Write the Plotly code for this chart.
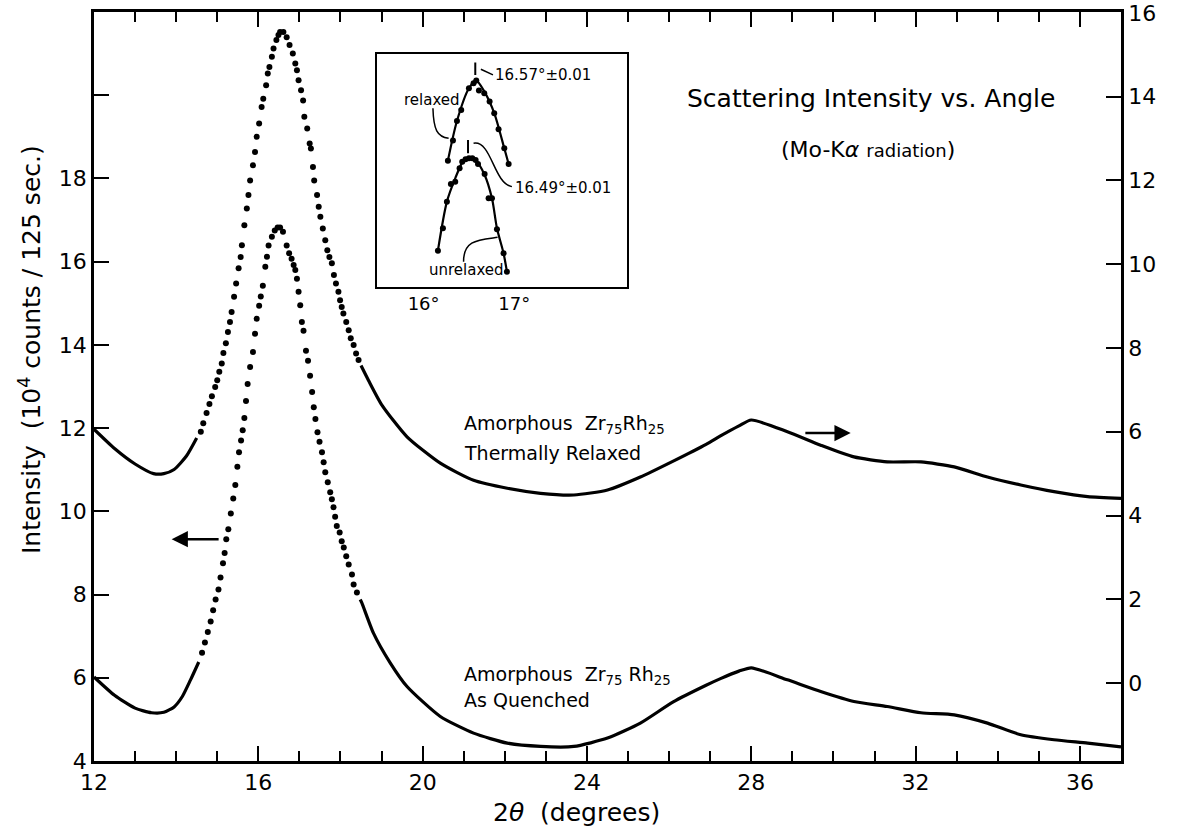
import plotly.graph_objects as go

# ---------------- data ----------------
# As-quenched curve (left axis)
quenched_left_x = [12.0, 12.5, 13.0, 13.4, 13.7, 13.95, 14.15, 14.35, 14.55]
quenched_left_y = [6.02, 5.58, 5.27, 5.16, 5.17, 5.30, 5.55, 5.95, 6.38]

quenched_dots_x = [14.63, 14.70, 14.77, 14.84, 14.90, 14.96, 15.03, 15.08, 15.14, 15.18, 15.22, 15.27,
                   15.33, 15.39, 15.44, 15.49, 15.53, 15.58, 15.62, 15.66, 15.70, 15.74, 15.80, 15.87,
                   15.92, 15.96, 16.02, 16.06, 16.11, 16.17, 16.21, 16.25, 16.33, 16.40, 16.47, 16.53,
                   16.60, 16.69, 16.75, 16.81, 16.86, 16.90, 16.94, 16.98, 17.02, 17.06, 17.10, 17.16,
                   17.21, 17.26, 17.31, 17.35, 17.39, 17.44, 17.49, 17.55, 17.59, 17.63, 17.69, 17.75,
                   17.79, 17.83, 17.87, 17.91, 17.98, 18.03, 18.08, 18.14, 18.20, 18.28, 18.32, 18.40]
quenched_dots_y = [6.60, 6.85, 7.10, 7.35, 7.62, 7.88, 8.12, 8.41, 8.75, 9.00, 9.33, 9.57,
                   9.95, 10.31, 10.63, 11.07, 11.42, 11.70, 11.95, 12.24, 12.65, 13.06, 13.47, 13.83,
                   14.27, 14.63, 14.94, 15.16, 15.42, 15.88, 16.12, 16.39, 16.60, 16.75, 16.82, 16.82,
                   16.72, 16.39, 16.20, 16.07, 15.92, 15.80, 15.59, 15.28, 14.95, 14.55, 14.34, 13.86,
                   13.62, 13.26, 12.87, 12.50, 12.22, 11.90, 11.67, 11.42, 11.18, 10.94, 10.70, 10.46,
                   10.29, 10.10, 9.87, 9.65, 9.49, 9.28, 9.13, 8.92, 8.72, 8.48, 8.24, 8.05]

quenched_right_x = [18.48, 18.52, 18.80, 19.21, 19.62, 20.43, 21.24, 22.06, 22.87, 23.68, 24.50, 25.30,
                    26.10, 26.90, 27.25, 27.70, 28.00, 28.88, 29.69, 30.50, 31.31, 32.13, 32.94, 33.75,
                    34.56, 35.37, 36.19, 37.00]
quenched_right_y = [7.88, 7.80, 7.08, 6.36, 5.79, 5.07, 4.67, 4.43, 4.35, 4.35, 4.55, 4.91,
                    5.42, 5.82, 5.98, 6.16, 6.24, 5.95, 5.67, 5.43, 5.31, 5.16, 5.11, 4.91,
                    4.63, 4.51, 4.43, 4.34]

# Thermally relaxed curve (right axis)
relaxed_left_x = [12.0, 12.5, 13.0, 13.45, 13.7, 13.95, 14.25, 14.5]
relaxed_left_y = [6.06, 5.60, 5.23, 5.00, 5.00, 5.10, 5.42, 5.85]

relaxed_dots_x = [14.60, 14.66, 14.74, 14.81, 14.87, 14.95, 15.00, 15.05, 15.11, 15.15, 15.21, 15.26,
                  15.31, 15.35, 15.41, 15.46, 15.52, 15.57, 15.60, 15.66, 15.72, 15.76, 15.80, 15.87,
                  15.92, 15.96, 16.02, 16.08, 16.12, 16.19, 16.23, 16.27, 16.33, 16.37, 16.44, 16.49,
                  16.53, 16.61, 16.69, 16.76, 16.84, 16.90, 16.94, 16.98, 17.04, 17.09, 17.12, 17.19,
                  17.25, 17.28, 17.33, 17.36, 17.43, 17.47, 17.51, 17.57, 17.63, 17.68, 17.73, 17.79,
                  17.84, 17.89, 17.95, 17.99, 18.03, 18.07, 18.14, 18.20, 18.25, 18.32, 18.38, 18.44]
relaxed_dots_y = [6.00, 6.20, 6.45, 6.66, 6.85, 7.07, 7.23, 7.43, 7.63, 7.88, 8.11, 8.38,
                  8.62, 8.86, 9.22, 9.54, 9.90, 10.17, 10.45, 10.93, 11.33, 11.65, 12.00, 12.36,
                  12.68, 13.04, 13.36, 13.75, 13.95, 14.27, 14.55, 14.71, 14.95, 15.15, 15.35, 15.47,
                  15.54, 15.54, 15.42, 15.23, 15.03, 14.79, 14.63, 14.39, 14.15, 13.91, 13.52, 13.24,
                  12.88, 12.76, 12.32, 12.00, 11.65, 11.37, 11.13, 10.85, 10.57, 10.33, 10.17, 10.02,
                  9.74, 9.54, 9.34, 9.14, 8.98, 8.82, 8.62, 8.42, 8.23, 8.07, 7.87, 7.71]

relaxed_right_x = [18.50, 18.68, 19.00, 19.62, 20.43, 21.24, 22.06, 22.87, 23.68, 24.50, 25.30, 26.10,
                   26.90, 27.25, 27.70, 28.00, 28.88, 29.69, 30.50, 31.31, 32.13, 32.94, 33.75, 34.56,
                   35.37, 36.19, 37.00]
relaxed_right_y = [7.58, 7.23, 6.65, 5.88, 5.25, 4.84, 4.65, 4.53, 4.49, 4.61, 4.92, 5.30,
                   5.70, 5.90, 6.14, 6.28, 6.00, 5.68, 5.40, 5.28, 5.28, 5.16, 4.92, 4.73,
                   4.57, 4.45, 4.41]

# Inset (peak region, arbitrary vertical units)
inset_relaxed_x = [16.268, 16.324, 16.368, 16.415, 16.50, 16.551, 16.581, 16.61, 16.669, 16.728,
                   16.779, 16.827, 16.89, 16.938]
inset_relaxed_y = [37.8, 43.8, 49.7, 53.0, 59.5, 61.0, 61.8, 58.8, 58.0, 55.5, 52.0, 47.2, 41.5, 36.8]
inset_relaxed_fit_x = [16.268, 16.368, 16.50, 16.58, 16.67, 16.78, 16.89, 16.938]
inset_relaxed_fit_y = [37.8, 49.7, 59.5, 61.8, 58.5, 52.0, 41.5, 36.8]

inset_unrelaxed_x = [16.158, 16.213, 16.257, 16.301, 16.349, 16.397, 16.426, 16.463, 16.50, 16.537,
                     16.574, 16.60, 16.673, 16.717, 16.754, 16.809, 16.882, 16.919]
inset_unrelaxed_y = [10.8, 17.5, 25.5, 30.8, 31.5, 35.5, 37.5, 38.2, 38.5, 38.5,
                     38.0, 36.8, 33.8, 26.5, 26.5, 17.2, 10.0, 4.5]
inset_unrelaxed_fit_x = [16.158, 16.257, 16.349, 16.44, 16.50, 16.57, 16.673, 16.754, 16.809, 16.882, 16.919]
inset_unrelaxed_fit_y = [10.8, 25.5, 32.5, 37.8, 38.6, 38.0, 33.5, 26.5, 17.5, 10.0, 4.5]

peak_positions = [16.57, 16.49]
peak_labels = ["16.57°±0.01", "16.49°±0.01"]

left_ticks = [4, 6, 8, 10, 12, 14, 16, 18, 20]
left_ticktext = ["4", "6", "8", "10", "12", "14", "16", "18", ""]
right_ticks = [0, 2, 4, 6, 8, 10, 12, 14, 16]

FONT = "DejaVu Sans"
BLACK = "black"

fig = go.Figure()

line_style = dict(color=BLACK, width=3.2, shape="spline", smoothing=0.6)
dot_style = dict(color=BLACK, size=6)

# quenched (left axis)
fig.add_trace(go.Scatter(x=quenched_left_x, y=quenched_left_y, mode="lines", line=line_style,
                         xaxis="x", yaxis="y", showlegend=False))
fig.add_trace(go.Scatter(x=quenched_dots_x, y=quenched_dots_y, mode="markers", marker=dot_style,
                         xaxis="x", yaxis="y", showlegend=False))
fig.add_trace(go.Scatter(x=quenched_right_x, y=quenched_right_y, mode="lines", line=line_style,
                         xaxis="x", yaxis="y", showlegend=False))
# relaxed (right axis)
fig.add_trace(go.Scatter(x=relaxed_left_x, y=relaxed_left_y, mode="lines", line=line_style,
                         xaxis="x", yaxis="y2", showlegend=False))
fig.add_trace(go.Scatter(x=relaxed_dots_x, y=relaxed_dots_y, mode="markers", marker=dot_style,
                         xaxis="x", yaxis="y2", showlegend=False))
fig.add_trace(go.Scatter(x=relaxed_right_x, y=relaxed_right_y, mode="lines", line=line_style,
                         xaxis="x", yaxis="y2", showlegend=False))

# inset
inset_line = dict(color=BLACK, width=2.2, shape="spline", smoothing=0.8)
fig.add_trace(go.Scatter(x=inset_relaxed_fit_x, y=inset_relaxed_fit_y, mode="lines", line=inset_line,
                         xaxis="x2", yaxis="y3", showlegend=False))
fig.add_trace(go.Scatter(x=inset_relaxed_x, y=inset_relaxed_y, mode="markers", marker=dict(color=BLACK, size=6),
                         xaxis="x2", yaxis="y3", showlegend=False))
fig.add_trace(go.Scatter(x=inset_unrelaxed_fit_x, y=inset_unrelaxed_fit_y, mode="lines", line=inset_line,
                         xaxis="x2", yaxis="y3", showlegend=False))
fig.add_trace(go.Scatter(x=inset_unrelaxed_x, y=inset_unrelaxed_y, mode="markers", marker=dict(color=BLACK, size=6),
                         xaxis="x2", yaxis="y3", showlegend=False))

tickfont = dict(family=FONT, size=22, color=BLACK)

fig.update_layout(
    template="none",
    width=1178, height=834, autosize=False,
    margin=dict(l=94, r=57, t=12, b=73, pad=0),
    paper_bgcolor="white", plot_bgcolor="white",
    font=dict(family=FONT, color=BLACK),
    xaxis=dict(range=[12, 37], tickmode="linear", tick0=12, dtick=4, ticks="inside", ticklen=15,
               tickwidth=2, tickcolor=BLACK, showline=True, linecolor=BLACK, linewidth=2.5,
               mirror="ticks", showgrid=False, zeroline=False, tickfont=tickfont, automargin=False,
               minor=dict(dtick=1, tick0=12, ticks="inside", ticklen=10, tickwidth=2, tickcolor=BLACK,
                          showgrid=False),
               anchor="y", domain=[0, 1]),
    yaxis=dict(range=[4, 22], tickmode="array", tickvals=left_ticks, ticktext=left_ticktext,
               ticks="inside", ticklen=15, tickwidth=2, tickcolor=BLACK, showline=True,
               linecolor=BLACK, linewidth=2.5, showgrid=False, zeroline=False, tickfont=tickfont,
               automargin=False, anchor="x", domain=[0, 1]),
    yaxis2=dict(range=[-1.86, 16.02], overlaying="y", side="right", anchor="x", tickmode="array",
                tickvals=right_ticks, ticks="inside", ticklen=15, tickwidth=2, tickcolor=BLACK,
                showline=True, linecolor=BLACK, linewidth=2.5, showgrid=False, zeroline=False,
                tickfont=tickfont, automargin=False),
    xaxis2=dict(domain=[0.2759, 0.5187], anchor="y3", range=[15.49, 18.24], tickmode="array",
                tickvals=[16, 17], ticktext=["16°", "17°"], ticks="", showline=True, linecolor=BLACK,
                linewidth=2, mirror=True, showgrid=False, zeroline=False, automargin=False,
                tickfont=dict(family=FONT, size=18, color=BLACK)),
    xaxis3=dict(overlaying="x2", side="top", anchor="y3", range=[15.49, 18.24], tickmode="array",
                tickvals=[16, 17], ticks="inside", ticklen=11, tickwidth=2, tickcolor=BLACK,
                showticklabels=False, showline=False, showgrid=False, zeroline=False, automargin=False),
    yaxis3=dict(domain=[0.6333, 0.944], anchor="x2", range=[0, 69.8], showticklabels=False, ticks="",
                showline=True, linecolor=BLACK, linewidth=2, mirror=True, showgrid=False, zeroline=False,
                automargin=False),
)

# inset: peak markers and leader lines
shapes = []
shapes.append(dict(type="line", xref="x2", yref="y3", x0=peak_positions[0], x1=peak_positions[0],
                   y0=63.5, y1=67.2, line=dict(color=BLACK, width=2)))
shapes.append(dict(type="line", xref="x2", yref="y3", x0=peak_positions[1], x1=peak_positions[1],
                   y0=40.0, y1=44.0, line=dict(color=BLACK, width=2)))
shapes.append(dict(type="path", xref="x2", yref="y3",
                   path="M 16.632,65.2 L 16.765,63.5", line=dict(color=BLACK, width=1.5)))
shapes.append(dict(type="path", xref="x2", yref="y3",
                   path="M 16.551,43 C 16.75,44 16.77,31 16.974,30", line=dict(color=BLACK, width=1.5)))
shapes.append(dict(type="path", xref="x2", yref="y3",
                   path="M 16.103,53.5 C 16.11,47 16.15,45 16.276,44.5", line=dict(color=BLACK, width=1.5)))
shapes.append(dict(type="path", xref="x2", yref="y3",
                   path="M 16.441,7.5 C 16.44,14 16.6,14 16.816,14.8", line=dict(color=BLACK, width=1.5)))
fig.update_layout(shapes=shapes)

ann = []
inset_font = dict(family=FONT, size=15, color=BLACK)


def text_ann(xref, yref, x, y, text, font, xanchor="center", yanchor="middle", **kw):
    d = dict(xref=xref, yref=yref, x=x, y=y, text=text, showarrow=False, font=font,
             xanchor=xanchor, yanchor=yanchor)
    d.update(kw)
    return d


ann.append(text_ann("x2", "y3", 16.092, 56, "relaxed", inset_font))
ann.append(text_ann("x2", "y3", 16.478, 5, "unrelaxed", inset_font))
ann.append(text_ann("x2", "y3", 16.77, 63.5, peak_labels[0], dict(family=FONT, size=15, color=BLACK),
                    xanchor="left"))
ann.append(text_ann("x2", "y3", 16.985, 29.5, peak_labels[1], dict(family=FONT, size=15, color=BLACK),
                    xanchor="left"))

# titles
ann.append(text_ann("paper", "paper", 0.7566, 0.885, "Scattering Intensity vs. Angle",
                    dict(family=FONT, size=25, color=BLACK)))
ann.append(text_ann("paper", "paper", 0.7537, 0.8158,
                    "(Mo-K<i>α</i> <span style='font-size:18px'>radiation</span>)",
                    dict(family=FONT, size=22, color=BLACK)))

label_font = dict(family=FONT, size=19, color=BLACK)
ann.append(text_ann("x", "paper", 20.97, 0.4486, "Amorphous  Zr<sub>75</sub>Rh<sub>25</sub>",
                    label_font, xanchor="left"))
ann.append(text_ann("x", "paper", 20.97, 0.4112, "Thermally Relaxed", label_font, xanchor="left"))
ann.append(text_ann("x", "paper", 20.97, 0.1148, "Amorphous  Zr<sub>75</sub> Rh<sub>25</sub>",
                    label_font, xanchor="left"))
ann.append(text_ann("x", "paper", 20.97, 0.0814, "As Quenched", label_font, xanchor="left"))

# axis titles
ann.append(text_ann("paper", "paper", -0.0623, 0.5487, "Intensity  (10<sup>4</sup> counts / 125 sec.)",
                    dict(family=FONT, size=25, color=BLACK), textangle=-90))
ann.append(text_ann("paper", "paper", 0.4703, -0.0694, "2<i>θ</i>  (degrees)",
                    dict(family=FONT, size=25, color=BLACK)))

# axis indicator arrows
ann.append(dict(xref="x", yref="y", x=13.89, y=9.33, axref="x", ayref="y", ax=15.07, ay=9.33,
                text="", showarrow=True, arrowhead=2, arrowsize=1.3, arrowwidth=2.5, arrowcolor=BLACK))
ann.append(dict(xref="x", yref="y2", x=30.42, y=5.97, axref="x", ayref="y2", ax=29.28, ay=5.97,
                text="", showarrow=True, arrowhead=2, arrowsize=1.3, arrowwidth=2.5, arrowcolor=BLACK))

fig.update_layout(annotations=ann)

fig.write_html("out.html")
